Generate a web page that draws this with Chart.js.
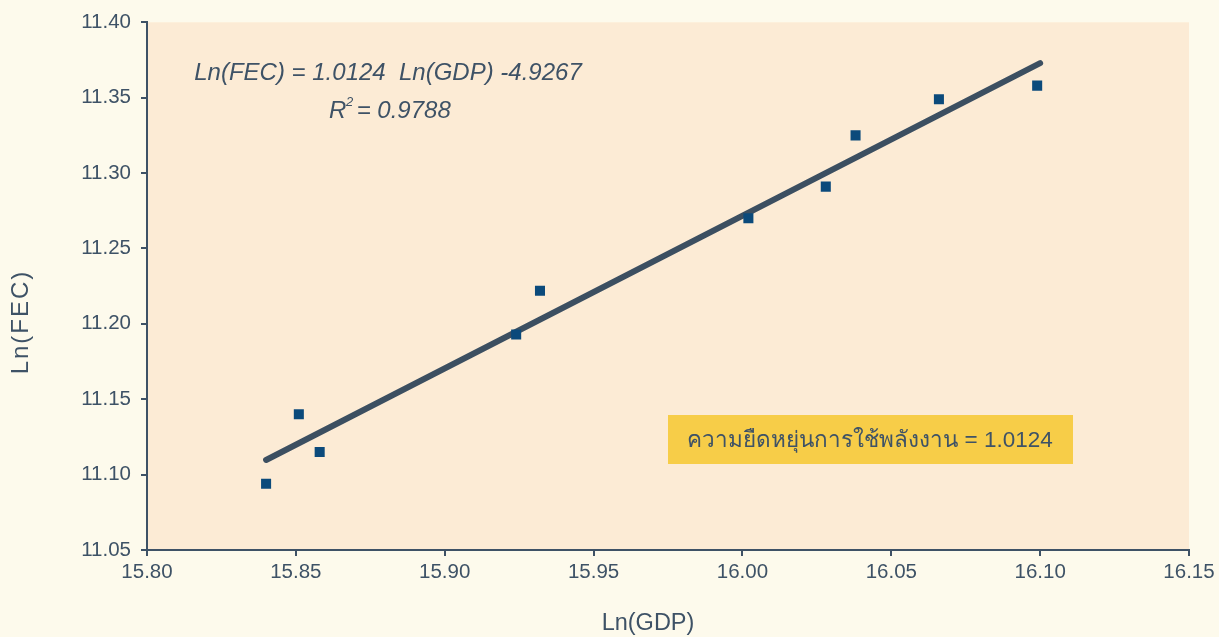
<!DOCTYPE html>
<html>
<head>
<meta charset="utf-8">
<script src="https://cdn.jsdelivr.net/npm/chart.js@4"></script>
<style>
    body { margin: 0; background: #fdfaec; }
    #wrap { width: 1219px; height: 637px; position: relative; }
</style>
</head>
<body>
<div id="wrap"><canvas id="elasticity"></canvas></div>
<script>
    // data
    const lnGDP = [15.840, 15.851, 15.858, 15.924, 15.932, 16.002, 16.028, 16.038, 16.066, 16.099];
    const lnFEC = [11.094, 11.140, 11.115, 11.193, 11.222, 11.270, 11.291, 11.325, 11.349, 11.358];
    const slope = 1.0124;
    const intercept = -4.9267;
    const trendX = [15.84, 16.10];
    const xTicks = [15.80, 15.85, 15.90, 15.95, 16.00, 16.05, 16.10, 16.15];
    const yTicks = [11.05, 11.10, 11.15, 11.20, 11.25, 11.30, 11.35, 11.40];

    const ink = '#3e5266';
    const font = "Arial, 'Liberation Sans', sans-serif";

    const points = lnGDP.map((x, i) => ({ x: x, y: lnFEC[i] }));
    const trend = trendX.map(x => ({ x: x, y: slope * x + intercept }));

    // peach plot area + notes
    const decor = {
        id: 'decor',
        beforeDraw(chart) {
            const { ctx, chartArea: a } = chart;
            ctx.save();
            ctx.fillStyle = '#fcebd5';
            ctx.fillRect(a.left, a.top, a.right - a.left, a.bottom - a.top);
            ctx.restore();
        },
        afterDraw(chart) {
            const { ctx } = chart;
            ctx.save();
            ctx.fillStyle = ink;
            ctx.textAlign = 'center';
            ctx.textBaseline = 'middle';

            // axis titles
            ctx.font = '23.5px ' + font;
            ctx.fillText('Ln(GDP)', 648, 624);
            ctx.save();
            ctx.translate(21, 323);
            ctx.rotate(-Math.PI / 2);
            ctx.font = '24px ' + font;
            ctx.letterSpacing = '2px';
            ctx.fillText('Ln(FEC)', 1, 0);
            ctx.restore();

            // regression equation
            ctx.font = 'italic 24px ' + font;
            ctx.fillText('Ln(FEC) = ' + slope.toFixed(4) + '  Ln(GDP) ' + intercept.toFixed(4), 388, 73);
            ctx.textAlign = 'left';
            ctx.fillText('R', 329, 111);
            ctx.font = 'italic 13px ' + font;
            ctx.fillText('2', 346, 102);
            ctx.font = 'italic 24px ' + font;
            ctx.fillText(' = 0.9788', 350, 111);

            // elasticity box
            ctx.fillStyle = '#f7cd48';
            ctx.fillRect(668, 415, 405, 49);
            ctx.fillStyle = ink;
            ctx.textAlign = 'center';
            ctx.font = '22.5px ' + font;
            ctx.fillText('ความยืดหยุ่นการใช้พลังงาน = ' + slope.toFixed(4), 870, 441);
            ctx.restore();
        }
    };

    const axisStyle = {
        type: 'linear',
        grid: { drawOnChartArea: false, drawTicks: true, tickLength: 6, color: ink, lineWidth: 2 },
        border: { color: ink, width: 2 }
    };

    new Chart(document.getElementById('elasticity'), {
        type: 'scatter',
        data: {
            datasets: [
                {
                    type: 'line',
                    data: trend,
                    borderColor: '#3c4f61',
                    borderWidth: 6,
                    borderCapStyle: 'round',
                    pointRadius: 0,
                    order: 2
                },
                {
                    data: points,
                    pointStyle: 'rect',
                    pointRadius: 7.1,
                    backgroundColor: '#0b4a7b',
                    borderWidth: 0,
                    order: 1
                }
            ]
        },
        options: {
            responsive: true,
            maintainAspectRatio: false,
            animation: false,
            layout: { padding: { top: 22, right: 30, left: 0, bottom: 0 } },
            plugins: { legend: { display: false }, tooltip: { enabled: false } },
            scales: {
                x: {
                    ...axisStyle,
                    min: xTicks[0],
                    max: xTicks[xTicks.length - 1],
                    afterBuildTicks: s => { s.ticks = xTicks.map(v => ({ value: v })); },
                    afterFit: s => { s.height = 87; },
                    ticks: { color: ink, font: { size: 20.5, family: font }, padding: 4, maxRotation: 0,
                        callback: v => Number(v).toFixed(2) }
                },
                y: {
                    ...axisStyle,
                    min: yTicks[0],
                    max: yTicks[yTicks.length - 1],
                    afterBuildTicks: s => { s.ticks = yTicks.map(v => ({ value: v })); },
                    afterFit: s => { s.width = 147; },
                    ticks: { color: ink, font: { size: 20.5, family: font }, padding: 10,
                        callback: v => Number(v).toFixed(2) }
                }
            }
        },
        plugins: [decor]
    });
</script>
</body>
</html>
